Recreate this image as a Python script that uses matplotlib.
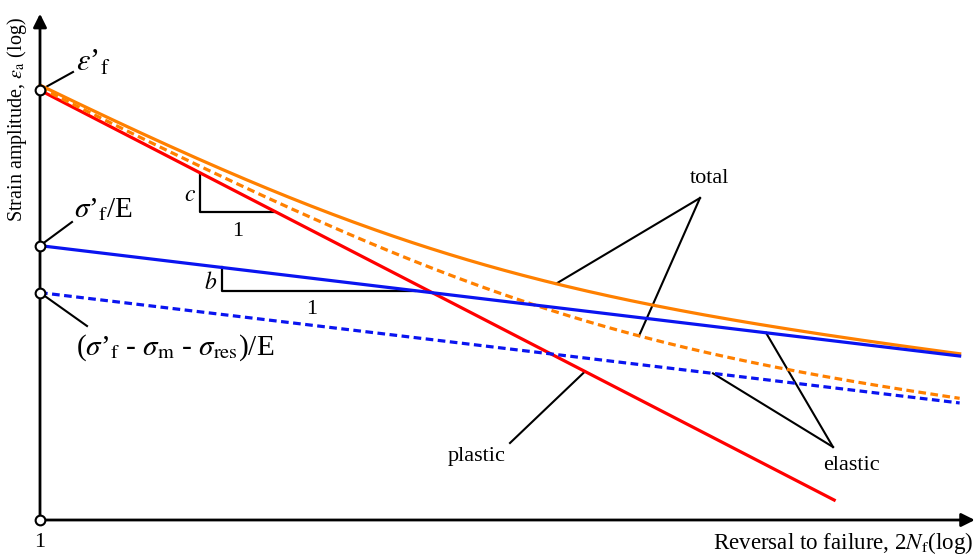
"""
Strain-life (Coffin-Manson) sketch: elastic, plastic and total strain
amplitude against reversals to failure, both axes logarithmic.
"""

import numpy as np
import matplotlib.pyplot as plt

plt.rcParams['font.family'] = ['Liberation Serif', 'DejaVu Serif']
plt.rcParams['mathtext.fontset'] = 'stix'

# ----------------------------------------------------------------------------
# Parameters (strain axis starts at 1e-4, 2N axis at 1).
# ----------------------------------------------------------------------------
EPS_F = 0.092          # fatigue ductility coefficient, eps'_f
SIG_F_E = 0.0078       # sigma'_f / E
SIG_EFF_E = 0.0037     # (sigma'_f - sigma_m - sigma_res) / E
B = -0.12              # fatigue strength exponent (elastic slope)
C = -0.516             # fatigue ductility exponent (plastic slope)

N_START = 1.0
N_END_PLASTIC = 3.0e5  # plastic line stops here
N_END = 2.2e6          # elastic and total lines stop here
N_AXIS = 2.8e6         # tip of the x arrow
EPS_ORIGIN = 1e-4
EPS_TOP = 0.31         # tip of the y arrow

# slope triangles: (left 2N, right 2N)
C_TRIANGLE = (12.7, 42.0)
B_TRIANGLE = (18.0, 385.0)

# ----------------------------------------------------------------------------
# Layout: the sketch uses about 145 px per decade on both axes.
# ----------------------------------------------------------------------------
PX_PER_DEC = 145.0
X0_PX, Y0_PX = 40.0, 520.0
W_PX, H_PX = 976, 556


def px(x, y):
    """Reference-picture pixel position -> data coordinates (for layout only)."""
    return (10 ** ((x - X0_PX) / PX_PER_DEC),
            EPS_ORIGIN * 10 ** ((Y0_PX - y) / PX_PER_DEC))


def elastic(n, coef):
    return coef * n ** B


def plastic(n):
    return EPS_F * n ** C


fig = plt.figure(figsize=(W_PX / 100, H_PX / 100), dpi=100)
ax = fig.add_axes([0, 0, 1, 1])
ax.set_xscale('log')
ax.set_yscale('log')
xmin, ymin = px(0, H_PX)
xmax, ymax = px(W_PX, 0)
ax.set_xlim(xmin, xmax)
ax.set_ylim(ymin, ymax)
ax.axis('off')

ORANGE = '#ff8000'
BLUE = '#0a14f0'
RED = '#ff0000'
LW = 2.3

n_pl = np.logspace(0, np.log10(N_END_PLASTIC), 200)
n_all = np.logspace(0, np.log10(N_END), 300)

ax.plot(n_pl, plastic(n_pl), color=RED, lw=LW, zorder=3)
ax.plot(n_all, elastic(n_all, SIG_EFF_E) + plastic(n_all), color=ORANGE,
        lw=LW, dashes=(2.4, 1.4), zorder=3)
ax.plot(n_all, elastic(n_all, SIG_F_E) + plastic(n_all), color=ORANGE,
        lw=LW, zorder=3)
ax.plot(n_all, elastic(n_all, SIG_F_E), color=BLUE, lw=LW, zorder=4)
ax.plot(n_all, elastic(n_all, SIG_EFF_E), color=BLUE, lw=LW,
        dashes=(2.4, 1.4), zorder=4)

# axes with arrows
arrow = dict(arrowstyle='-|>', lw=2.0, color='black', mutation_scale=20,
             shrinkA=0, shrinkB=0)
ax.annotate('', xy=(N_AXIS, EPS_ORIGIN), xytext=(N_START, EPS_ORIGIN),
            arrowprops=arrow, zorder=5)
ax.annotate('', xy=(N_START, EPS_TOP), xytext=(N_START, EPS_ORIGIN),
            arrowprops=arrow, zorder=5)

# open circles on the strain axis
ax.plot([N_START] * 4, [EPS_ORIGIN, SIG_EFF_E, SIG_F_E, EPS_F], 'o',
        ms=7, mfc='white', mec='black', mew=1.5, zorder=6, clip_on=False)

# slope triangles
kw_tri = dict(color='black', lw=1.6, zorder=2)
n1, n2 = C_TRIANGLE
ax.plot([n1, n1, n2], [plastic(n1), plastic(n2), plastic(n2)], **kw_tri)
n1, n2 = B_TRIANGLE
ax.plot([n1, n1, n2], [elastic(n1, SIG_F_E), elastic(n2, SIG_F_E),
                       elastic(n2, SIG_F_E)], **kw_tri)

FS = 16
ax.text(*px(190, 195), '$c$', fontsize=FS + 1, ha='center', va='center')
ax.text(*px(238, 231), '1', fontsize=FS, ha='center', va='center')
ax.text(*px(211, 283), '$b$', fontsize=FS + 1, ha='center', va='center')
ax.text(*px(312, 309), '1', fontsize=FS, ha='center', va='center')

# leader lines
kw_lead = dict(color='black', lw=1.5, zorder=2)


def leader(start, end):
    ax.plot([start[0], end[0]], [start[1], end[1]], **kw_lead)


total_tip = px(700, 198)
n_a, n_b = px(556, 0)[0], px(639, 0)[0]
leader(total_tip, (n_a, elastic(n_a, SIG_F_E) + plastic(n_a)))
leader(total_tip, (n_b, elastic(n_b, SIG_EFF_E) + plastic(n_b)))
ax.text(*px(710, 178), 'total', fontsize=FS, ha='center', va='center')

elastic_tip = px(833, 447)
n_a, n_b = px(766, 0)[0], px(713, 0)[0]
leader(elastic_tip, (n_a, elastic(n_a, SIG_F_E)))
leader(elastic_tip, (n_b, elastic(n_b, SIG_EFF_E)))
ax.text(*px(851, 465), 'elastic', fontsize=FS, ha='center', va='center')

n_a = px(585, 0)[0]
leader(px(510, 443), (n_a, plastic(n_a)))
ax.text(*px(477, 456), 'plastic', fontsize=FS, ha='center', va='center')

# labels on the strain axis
leader((N_START, EPS_F), px(73, 72))
ax.text(*px(76, 63), r"$\varepsilon$’$_{\mathrm{f}}$", fontsize=22,
        ha='left', va='center')
leader((N_START, SIG_F_E), px(72, 222))
ax.text(*px(74, 210), r"$\sigma$’$_{\mathrm{f}}$/E", fontsize=21,
        ha='left', va='center')
leader((N_START, SIG_EFF_E), px(87, 326))
ax.text(*px(76, 348),
        r"($\sigma$’$_{\mathrm{f}}$ - $\sigma_{\mathrm{m}}$ - "
        r"$\sigma_{\mathrm{res}}$)/E", fontsize=21, ha='left', va='center')

# axis titles
ax.text(*px(40, 542), '1', fontsize=FS, ha='center', va='center')
ax.text(*px(973, 543), r'Reversal to failure, 2$N_{\mathrm{f}}$(log)',
        fontsize=16.6, ha='right', va='center')
ax.text(*px(17, 120), r'Strain amplitude, $\varepsilon_{\mathrm{a}}$ (log)',
        fontsize=14.5, ha='center', va='center', rotation=90)

fig.savefig('out.png', dpi=100)
